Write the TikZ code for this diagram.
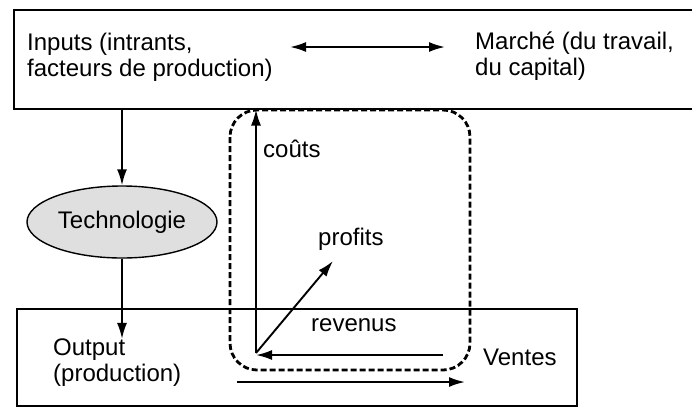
\documentclass[tikz,border=0pt]{standalone}
\usepackage{fontspec}
\setmainfont{Liberation Sans}
\usepackage{tikz}
\usetikzlibrary{arrows.meta,shapes,positioning,calc}

\begin{document}
\begin{tikzpicture}[
    x=1pt, y=-1pt,
    every node/.style={inner sep=0pt, align=left, font=\fontsize{24}{26}\selectfont},
    cadre/.style={draw, line width=1.5pt, anchor=north west},
    fleche/.style={line width=1.9pt, -{Latex[length=16pt,width=10pt]}},
    boucle/.style={draw, line width=2.8pt, dash pattern=on 6pt off 3pt, rounded corners=27pt},
]
\useasboundingbox (0,0) rectangle (692,408);
\clip (0,0) rectangle (692,408);

% Boxes
\node[cadre, minimum width=700pt, minimum height=99pt] (haut) at (13,9) {};
\node[cadre, minimum width=560pt, minimum height=97pt] (bas) at (16,308) {};

% Top row
\node[anchor=west] (inputs) at (27,57) {Inputs (intrants,\\facteurs de production)};
\node[anchor=west] (marche) at (475,56) {March\'e (du travail,\\du capital)};
\draw[line width=1.9pt, {Latex[length=16pt,width=10pt]}-{Latex[length=16pt,width=10pt]}] (290,47) -- (445,47);

% Technologie
\node[ellipse, draw, line width=1.4pt, fill=gray!25, minimum width=190pt, minimum height=72pt] (techno) at (122,222) {Technologie};
\node[anchor=west] (output) at (53,363) {Output\\(production)};
\draw[fleche] (techno |- haut.south) -- (techno.north);
\draw[fleche] (techno.south) -- (techno |- output.north);

% Loop
\draw[boucle] (230,110) rectangle (470,370);
\coordinate (pivot) at (256,353);
\coordinate (revdebut) at (443,355);
\coordinate (profitbout) at (333,261);
\coordinate (ventedebut) at (237,382);
\coordinate (ventefin) at (465,382);
\draw[fleche] (pivot) -- (pivot |- haut.south);
\draw[fleche] (revdebut) -- (pivot |- revdebut);
\draw[fleche] (pivot) -- (profitbout);
\draw[fleche] (ventedebut) -- (ventefin);

% Labels
\node[anchor=west] (couts) at (263,149) {co\^uts};
\node[anchor=west] (profits) at (318,239) {profits};
\node[anchor=west] (revenus) at (311,325) {revenus};
\node[anchor=west] (ventes) at (483,357) {Ventes};

\end{tikzpicture}
\end{document}
